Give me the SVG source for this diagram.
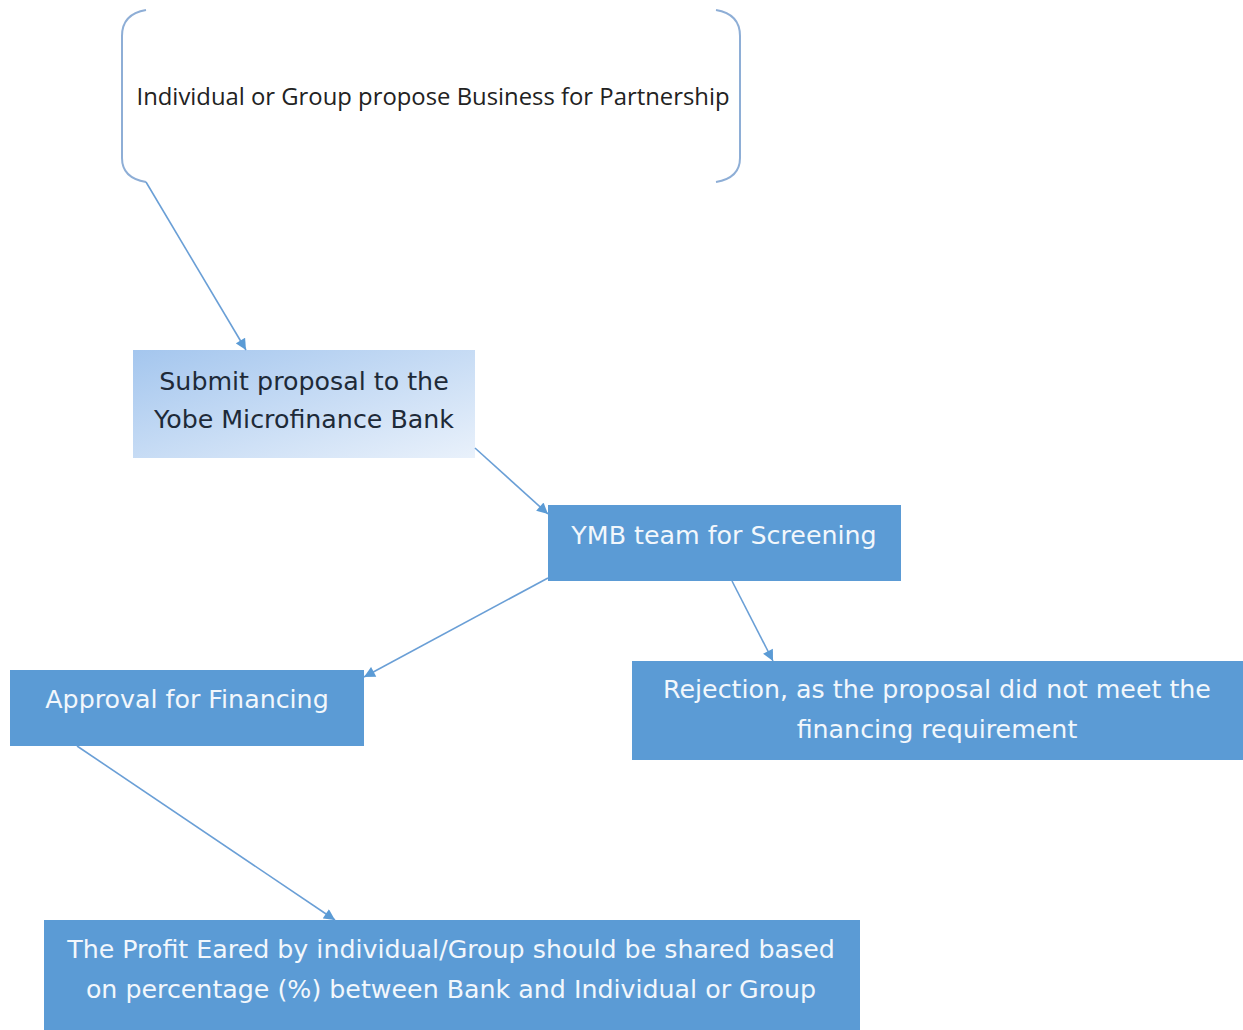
<svg xmlns="http://www.w3.org/2000/svg" width="1243" height="1030" viewBox="0 0 1243 1030">
<style>
.box{fill:#5b9bd5}
.lt{font-family:"DejaVu Sans",Verdana,sans-serif;font-size:25.3px;fill:#f2f7fc;text-anchor:middle}
.dk{font-family:"DejaVu Sans",Verdana,sans-serif;font-size:25.3px;fill:#1e2a38;text-anchor:middle}
.br{fill:none;stroke:#8eaed6;stroke-width:2}
.cn{fill:none;stroke:#6a9fd6;stroke-width:1.6;marker-end:url(#ah)}
</style>
<defs>
<linearGradient id="g1" x1="0" y1="0" x2="1" y2="1">
<stop offset="0" stop-color="#a4c6ee"/>
<stop offset="1" stop-color="#e9f1fb"/>
</linearGradient>
<marker id="ah" viewBox="0 0 10 10" refX="10" refY="5" markerWidth="12" markerHeight="11" orient="auto" markerUnits="userSpaceOnUse">
<path d="M0,0 L10,5 L0,10 z" fill="#5b9bd5"/>
</marker>
</defs>
<rect width="1243" height="1030" fill="#ffffff"/>
<g id="n1">
<path class="br" d="M146,10 Q122,14 122,36 L122,158 Q122,178 146,182"/>
<path class="br" d="M716,10 Q740,14 740,36 L740,158 Q740,178 716,182"/>
<text x="433" y="105" font-family="'Open Sans','Noto Sans',sans-serif" font-size="24" fill="#222" text-anchor="middle" textLength="593" lengthAdjust="spacingAndGlyphs">Individual or Group propose Business for Partnership</text>
</g>
<g id="n2">
<rect x="133" y="350" width="342" height="108" fill="url(#g1)"/>
<text class="dk" x="304" y="390">Submit proposal to the</text>
<text class="dk" x="304" y="428">Yobe Microfinance Bank</text>
</g>
<g id="n3">
<rect class="box" x="548" y="505" width="353" height="76"/>
<text class="lt" x="724" y="544">YMB team for Screening</text>
</g>
<g id="n4">
<rect class="box" x="10" y="670" width="354" height="76"/>
<text class="lt" x="187" y="708">Approval for Financing</text>
</g>
<g id="n5">
<rect class="box" x="632" y="661" width="611" height="99"/>
<text class="lt" x="937" y="698">Rejection, as the proposal did not meet the</text>
<text class="lt" x="937" y="738">financing requirement</text>
</g>
<g id="n6">
<rect class="box" x="44" y="920" width="816" height="110"/>
<text class="lt" x="451" y="958">The Profit Eared by individual/Group should be shared based</text>
<text class="lt" x="451" y="998">on percentage (%) between Bank and Individual or Group</text>
</g>
<g id="connectors">
<path class="cn" d="M146,182 L246,350"/>
<path class="cn" d="M475,448 L548,514"/>
<path class="cn" d="M548,578 L364,677"/>
<path class="cn" d="M732,581 L773,661"/>
<path class="cn" d="M77,746 L335,920"/>
</g>
</svg>
